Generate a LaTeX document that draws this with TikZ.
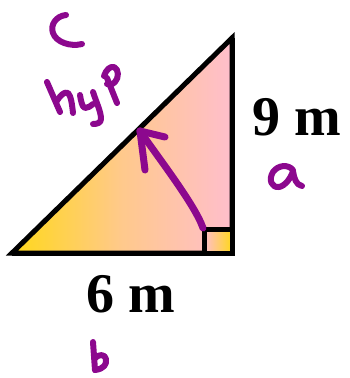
\documentclass[tikz,border=0pt]{standalone}
\usepackage{fontspec}
\setmainfont{Liberation Serif}
\definecolor{tyellow}{RGB}{255,216,26}
\definecolor{tpink}{RGB}{255,190,204}
\definecolor{hand}{RGB}{140,8,142}
\begin{document}
\begin{tikzpicture}[x=1pt,y=-1pt,
  edge/.style={line width=5pt,line join=miter},
  ink/.style={draw=hand,line width=6pt,line cap=round,line join=round},
  measure/.style={font=\fontsize{56}{60}\selectfont\bfseries,inner sep=0pt,anchor=base}]
\useasboundingbox (0,0) rectangle (349,378);
% vertices
\coordinate (A) at (12,253);
\coordinate (B) at (232,253);
\coordinate (C) at (232,38);
\coordinate (S) at (204,229);
% triangle
\shade[left color=tyellow,right color=tpink,middle color={rgb,255:red,255;green,201;blue,140}] (A) -- (B) -- (C) -- cycle;
\draw[edge] (A) -- (B) -- (C) -- cycle;
% right angle square
\shade[left color=tpink,right color=tyellow] (S) rectangle (B);
\draw[edge] (S |- B) -- (S) -- (S -| B);
\draw[edge] (A) -- (B) -- (C);
% labels
\node[measure] (nine) at (297,135) {9 m};
\node[measure] (six) at (131,312) {6 m};
% purple arrow
\coordinate (arrS) at (203,228);
\coordinate (arrE) at (140,131);
\draw[ink,line width=7pt] (arrS) .. controls (195,205) and (160,160) .. (arrE);
\draw[ink,line width=7pt] (arrE) -- (165,137);
\draw[ink,line width=7pt] (arrE) -- (145,170);
% c
\draw[ink] (66,15) .. controls (56,16) and (50,25) .. (53,33) .. controls (56,42) and (70,47) .. (82,44);
% h
\draw[ink] (47,82) -- (60,112);
\draw[ink] (56,102) .. controls (60,96) and (64,91) .. (68,93) .. controls (71,96) and (72,104) .. (73,113);
% y
\draw[ink] (80,95) .. controls (81,101) and (82,107) .. (85,108) .. controls (88,108) and (91,106) .. (93,104);
\draw[ink] (93,92) .. controls (97,104) and (101,112) .. (101,119) .. controls (101,123) and (97,124) .. (93,124);
% p
\draw[ink] (104,76) .. controls (106,70) and (110,66) .. (114,67) .. controls (119,69) and (119,78) .. (115,82) .. controls (112,85) and (109,85) .. (107,84);
\draw[ink] (107,78) -- (117,103);
% a
\draw[ink] (293,170) .. controls (288,164) and (278,165) .. (273,172) .. controls (268,180) and (272,188) .. (279,187) .. controls (285,186) and (291,178) .. (293,171) .. controls (294,178) and (296,185) .. (302,186);
% b
\draw[ink] (93,342) -- (95,370);
\draw[ink] (95,358) .. controls (99,354) and (105,354) .. (106,359) .. controls (107,364) and (104,369) .. (95,370);
\end{tikzpicture}
\end{document}
